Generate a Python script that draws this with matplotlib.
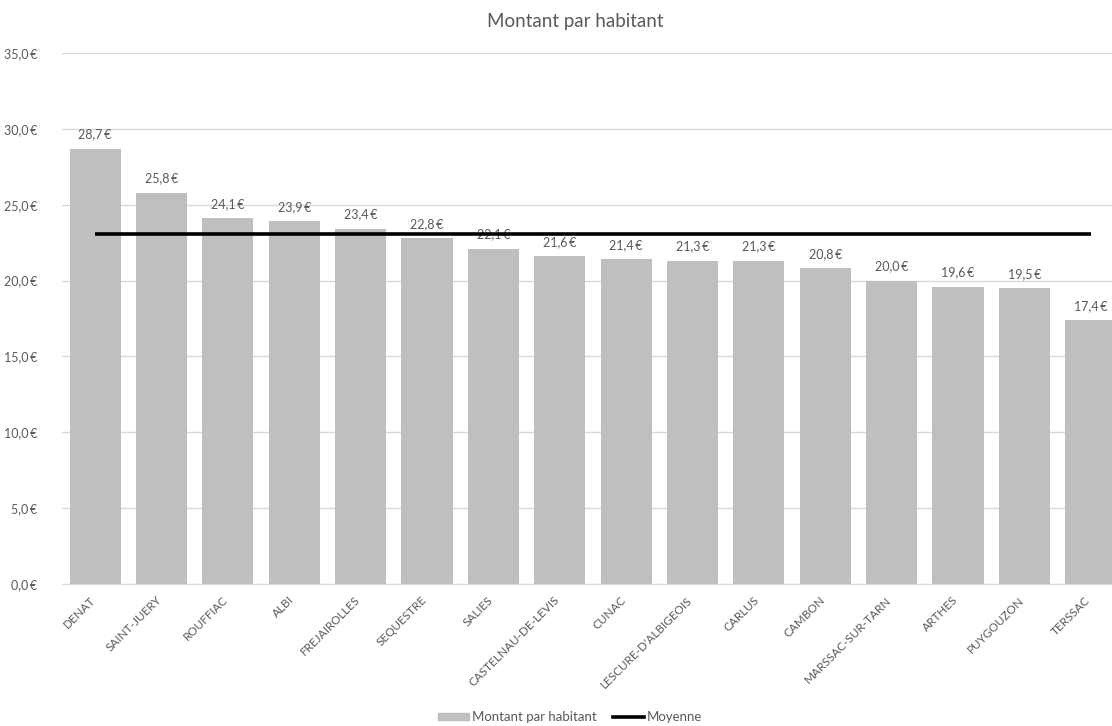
import matplotlib
matplotlib.use("Agg")
import matplotlib.pyplot as plt
import matplotlib.transforms as mtransforms
from matplotlib.lines import Line2D
from matplotlib.patches import Patch

communes = ["DENAT", "SAINT-JUERY", "ROUFFIAC", "ALBI", "FREJAIROLLES", "SEQUESTRE",
            "SALIES", "CASTELNAU-DE-LEVIS", "CUNAC", "LESCURE-D'ALBIGEOIS", "CARLUS",
            "CAMBON", "MARSSAC-SUR-TARN", "ARTHES", "PUYGOUZON", "TERSSAC"]
montant = [28.7, 25.8, 24.1, 23.9, 23.4, 22.8, 22.1, 21.6, 21.4, 21.3, 21.3,
           20.8, 20.0, 19.6, 19.5, 17.4]
moyenne = [23.1] * len(communes)
yticks = [0, 5, 10, 15, 20, 25, 30, 35]

def eur(v):
    return f"{v:.1f}".replace(".", ",") + "\u2009€"

plt.rcParams['font.family'] = ['Lato', 'DejaVu Sans']
txt = "#595959"

fig = plt.figure(figsize=(11.12, 7.26), dpi=100)
ax = fig.add_axes([62/1112, 1-584/726, (1112-62)/1112, (584-53)/726])

x = list(range(len(communes)))
ax.bar(x, montant, width=0.77, color="#bfbfbf", zorder=2)
ax.plot(x, moyenne, color="black", lw=2.6, zorder=3, solid_capstyle="butt")
for xi, v in zip(x, montant):
    ax.annotate(eur(v), (xi, v), xytext=(0, 6), textcoords="offset points",
                ha="center", va="bottom", fontsize=9, color=txt, zorder=1)

ax.set_xlim(-0.5, 15.32)
ax.set_ylim(0, 35)
ax.set_yticks(yticks)
ax.set_yticklabels([eur(v) for v in yticks], fontsize=9, color=txt)
ax.grid(axis="y", color="#d9d9d9", lw=1, zorder=0)
ax.set_axisbelow(True)
for s in ["top", "right", "left"]:
    ax.spines[s].set_visible(False)
ax.spines["bottom"].set_color("#d9d9d9")
ax.tick_params(axis="y", length=0, pad=18)
ax.tick_params(axis="x", length=0, pad=6)
ax.set_xticks(x)
ax.set_xticklabels(communes, rotation=45, ha="right", va="top",
                   rotation_mode="anchor", fontsize=8.5, color=txt)
off = mtransforms.ScaledTranslation(-6/100, -2/100, fig.dpi_scale_trans)
for lab in ax.get_xticklabels():
    lab.set_transform(lab.get_transform() + off)

fig.text(575/1112, 1-21/726, "Montant par habitant", ha="center", va="center",
         fontsize=13.5, color=txt)

handles = [Patch(color="#bfbfbf", label="Montant par habitant"),
           Line2D([0], [0], color="black", lw=2.6, label="Moyenne")]
fig.legend(handles=handles, loc="center", bbox_to_anchor=(570/1112, 1-717/726),
           ncol=2, frameon=False, fontsize=9.5, labelcolor=txt,
           handlelength=2.4, handleheight=0.5, handletextpad=0.2, columnspacing=1.2)

fig.savefig("out.png", dpi=100)
